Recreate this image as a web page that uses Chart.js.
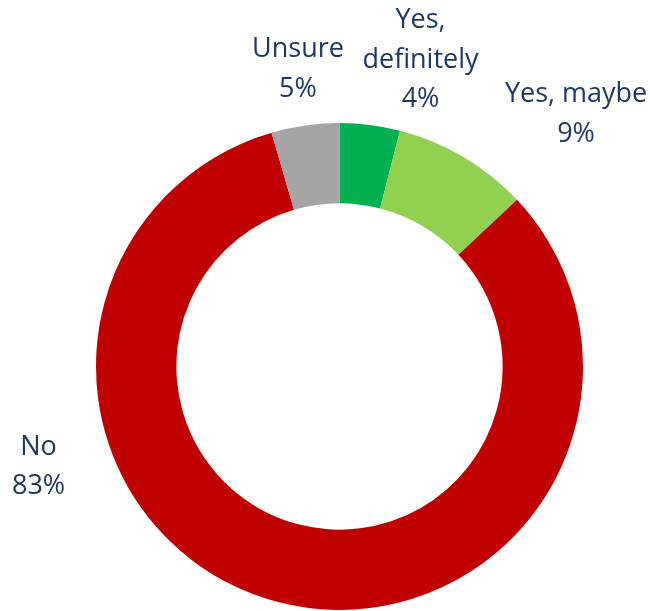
<!DOCTYPE html>
<html>
<head>
<meta charset="utf-8">
<script src="https://cdn.jsdelivr.net/npm/chart.js@4/dist/chart.umd.min.js"></script>
<style>
  html, body { margin: 0; padding: 0; background: #ffffff; }
  #wrap { width: 650px; height: 611px; position: relative; }
</style>
</head>
<body>
<div id="wrap"><canvas id="c"></canvas></div>
<script>
// ---- data ----
const categories = ["Yes, definitely", "Yes, maybe", "No", "Unsure"];
const labelLines = [["Yes,", "definitely"], ["Yes, maybe"], ["No"], ["Unsure"]];
const values = [4, 9, 82.5, 4.5];
const colors = ["#00B050", "#92D050", "#C00000", "#A5A5A5"];

// label placement relative to each slice's outer midpoint (first baseline)
const labelOffsets = [
  { dx: 50.5, dy: -96.9 },
  { dx: 112.6, dy: -54.9 },
  { dx: -236.7, dy: -146.4 },
  { dx: -7.2, dy: -68.4 }
];

const total = values.reduce((a, b) => a + b, 0);

const labelPlugin = {
  id: 'outLabels',
  afterDatasetsDraw(chart) {
    const ctx = chart.ctx;
    const meta = chart.getDatasetMeta(0);
    ctx.save();
    ctx.font = '27px "Open Sans", sans-serif';
    ctx.fillStyle = '#1F3864';
    ctx.textAlign = 'center';
    ctx.textBaseline = 'alphabetic';
    const lh = 39.5;
    meta.data.forEach((arc, i) => {
      const mid = (arc.startAngle + arc.endAngle) / 2;
      const ox = arc.x + Math.cos(mid) * arc.outerRadius;
      const oy = arc.y + Math.sin(mid) * arc.outerRadius;
      const x = ox + labelOffsets[i].dx;
      let y = oy + labelOffsets[i].dy;
      const lines = labelLines[i].concat([Math.round(values[i] / total * 100) + '%']);
      lines.forEach((t) => { ctx.fillText(t, x, y); y += lh; });
    });
    ctx.restore();
  }
};

new Chart(document.getElementById('c'), {
  type: 'doughnut',
  data: {
    labels: categories,
    datasets: [{
      data: values,
      backgroundColor: colors,
      borderWidth: 0,
      hoverOffset: 0
    }]
  },
  options: {
    responsive: true,
    maintainAspectRatio: false,
    animation: false,
    cutout: '67%',
    layout: { padding: { top: 123, bottom: 1, left: 96, right: 67 } },
    plugins: {
      legend: { display: false },
      tooltip: { enabled: false }
    }
  },
  plugins: [labelPlugin]
});
</script>
</body>
</html>
